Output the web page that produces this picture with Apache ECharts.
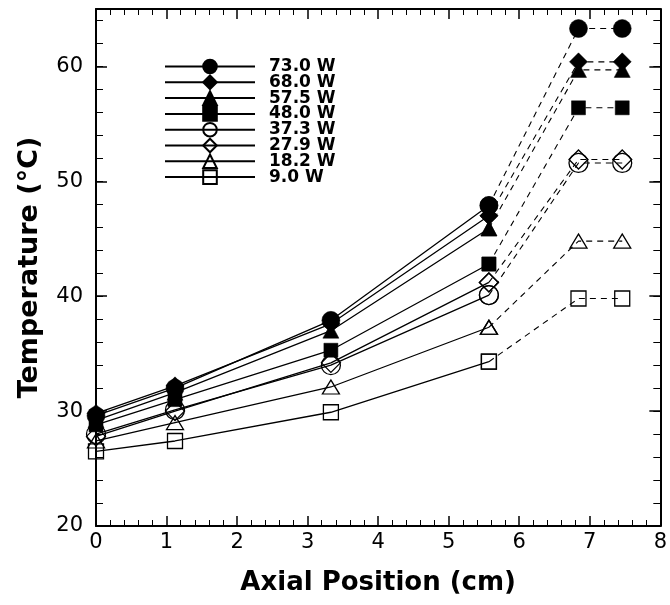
<!DOCTYPE html>
<html><head><meta charset="utf-8">
<script src="https://cdn.jsdelivr.net/npm/echarts@6/dist/echarts.min.js"></script>
<style>html,body{margin:0;padding:0;background:#fff}#c{width:670px;height:605px}</style>
</head><body><div id="c"></div>
<script>
// ---- data ----
const xPositions = [0, 1.12, 3.33, 5.57, 6.84, 7.46];
const seriesNames = ['73.0 W', '68.0 W', '57.5 W', '48.0 W', '37.3 W', '27.9 W', '18.2 W', '9.0 W'];
const t73 = [29.6, 32.0, 37.9, 47.9, 63.3, 63.3];
const t68 = [29.8, 32.2, 37.6, 47.0, 60.4, 60.4];
const t575 = [29.2, 31.6, 37.0, 45.9, 59.7, 59.7];
const t48 = [28.8, 31.0, 35.3, 42.8, 56.4, 56.4];
const t373 = [28.0, 30.1, 34.0, 40.1, 51.6, 51.6];
const t279 = [27.8, 30.0, 34.2, 41.2, 51.9, 51.9];
const t182 = [27.4, 29.0, 32.1, 37.3, 44.8, 44.8];
const t90 = [26.5, 27.4, 29.9, 34.3, 39.8, 39.8];
const xTickLabels = ['0', '1', '2', '3', '4', '5', '6', '7', '8'];
const yTickLabels = ['20', '30', '40', '50', '60'];
const measuredCount = 4; // first 4 points solid, rest dashed

const valueSets = [t73, t68, t575, t48, t373, t279, t182, t90];
// ---- styles ----
const markerStyles = [
  { symbol: 'circle', size: 18, filled: true },
  { symbol: 'diamond', size: 18, filled: true },
  { symbol: 'triangle', size: [16, 15], filled: true },
  { symbol: 'rect', size: 14, filled: true },
  { symbol: 'circle', size: 19, filled: false },
  { symbol: 'diamond', size: 19, filled: false },
  { symbol: 'triangle', size: [17, 14], filled: false },
  { symbol: 'rect', size: 15, filled: false }
];

const series = [];
valueSets.forEach((vals, i) => {
  const m = markerStyles[i];
  const itemStyle = m.filled
    ? { color: '#000', borderColor: '#000', borderWidth: 0.5 }
    : { color: 'transparent', borderColor: '#000', borderWidth: 1.3 };
  const pts = xPositions.map((x, j) => [x, vals[j]]);
  series.push({
    name: seriesNames[i], type: 'line', data: pts.slice(0, measuredCount),
    symbol: m.symbol, symbolSize: m.size, showSymbol: true, itemStyle,
    lineStyle: { color: '#000', width: 1.3, type: 'solid' },
    emphasis: { disabled: true }, silent: true, z: 3
  });
  series.push({
    name: seriesNames[i] + ' ext', type: 'line', data: pts.slice(measuredCount - 1),
    symbol: m.symbol, symbolSize: m.size, showSymbol: true, itemStyle,
    lineStyle: { color: '#000', width: 1.1, type: [6, 5] },
    emphasis: { disabled: true }, silent: true, z: 3
  });
});

const font = 'DejaVu Sans';
const tickLabelStyle = { fontFamily: font, fontSize: 21, color: '#000' };
function xAxisDef(pos, showLabels) {
  return {
    type: 'value', position: pos, min: 0, max: 8, interval: 1,
    axisLine: { show: true, onZero: false, lineStyle: { color: '#000', width: 2 } },
    axisTick: { show: true, inside: true, length: 10, lineStyle: { color: '#000', width: 1.5 } },
    minorTick: { show: true, splitNumber: 5, length: 6, lineStyle: { color: '#000', width: 1 } },
    splitLine: { show: false }, minorSplitLine: { show: false },
    axisLabel: showLabels ? Object.assign({ margin: 6, formatter: v => xTickLabels[Math.round(v)] }, tickLabelStyle) : { show: false },
    name: showLabels ? 'Axial Position (cm)' : '', nameLocation: 'middle', nameGap: 44,
    nameTextStyle: { fontFamily: font, fontWeight: 'bold', fontSize: 26, color: '#000' }
  };
}
function yAxisDef(pos, interval, tickLen, showLine, showLabels, name) {
  return {
    type: 'value', position: pos, min: 20, max: 65, interval: interval,
    axisLine: { show: showLine, onZero: false, lineStyle: { color: '#000', width: 2 } },
    axisTick: { show: true, inside: true, length: tickLen, lineStyle: { color: '#000', width: interval === 10 ? 1.5 : 1 } },
    splitLine: { show: false },
    axisLabel: showLabels ? Object.assign({ margin: 13, formatter: v => (v % 10 === 0 ? yTickLabels[(v - 20) / 10] : '') }, tickLabelStyle) : { show: false },
    name: name || '', nameLocation: 'middle', nameGap: 53,
    nameTextStyle: { fontFamily: font, fontWeight: 'bold', fontSize: 27, color: '#000' }
  };
}

const option = {
  animation: false,
  backgroundColor: '#fff',
  grid: { left: 96, right: 8, top: 9, bottom: 79, containLabel: false },
  xAxis: [xAxisDef('bottom', true), xAxisDef('top', false)],
  yAxis: [
    yAxisDef('left', 10, 11, true, true, 'Temperature (°C)'),
    yAxisDef('left', 2, 7, false, false),
    yAxisDef('right', 10, 11, true, false),
    yAxisDef('right', 2, 7, false, false)
  ],
  legend: {
    data: seriesNames, orient: 'vertical', left: 164, top: 58, padding: 0,
    itemWidth: 90, itemHeight: 17, itemGap: -1.2, selectedMode: false,
    textStyle: { fontFamily: font, fontWeight: 'bold', fontSize: 17, color: '#000', padding: [0, 0, 0, 9] }
  },
  series: series
};
const chart = echarts.init(document.getElementById('c'), null, { renderer: 'canvas' });
chart.setOption(option);
</script></body></html>
